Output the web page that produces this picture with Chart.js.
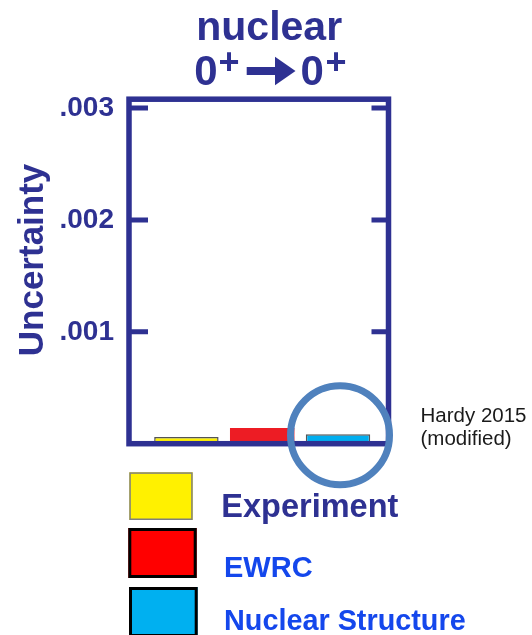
<!DOCTYPE html>
<html>
<head>
<meta charset="utf-8">
<script src="https://cdn.jsdelivr.net/npm/chart.js@4.4.1/dist/chart.umd.min.js"></script>
<style>
html,body{margin:0;padding:0;background:#ffffff;}
#wrap{width:532px;height:635px;position:relative;overflow:hidden;}
canvas{display:block;}
</style>
</head>
<body>
<div id="wrap"><canvas id="c" width="532" height="635"></canvas></div>
<script>
// ---- data ----
const categories = ["Experiment", "EWRC", "Nuclear Structure"];
const uncertainty = [0.00006, 0.00014, 0.000085];
const yTickValues = [0.001, 0.002, 0.003];
const yTickLabels = [".001", ".002", ".003"];
const yAxisTitle = "Uncertainty";
const titleLine = "nuclear";
const transitionLeft = ["0", "+"];
const transitionRight = ["0", "+"];
const noteLines = ["Hardy 2015", "(modified)"];

// ---- styles ----
const NAVY = "#2E3192";
const barColors = ["#FFF200", "#ED1C24", "#00AEEF"];
const barBorderWidths = [1.5, 0, 1.5];
const legendColors = ["#FFF100", "#FF0000", "#00B0F0"];
const legendTextColors = [NAVY, "#1447EC", "#1447EC"];

const decorPlugin = {
  id: "decor",
  afterDraw(chart) {
    const ctx = chart.ctx;
    const ca = chart.chartArea;
    const ys = chart.scales.y;
    const xs = chart.scales.x;
    ctx.save();

    // frame
    ctx.strokeStyle = NAVY;
    ctx.lineWidth = 5.5;
    ctx.strokeRect(ca.left, ca.top, ca.right - ca.left, ca.bottom - ca.top);
    // inward ticks
    ctx.lineWidth = 5;
    yTickValues.forEach(v => {
      const py = ys.getPixelForValue(v);
      ctx.beginPath();
      ctx.moveTo(ca.left, py); ctx.lineTo(ca.left + 19, py);
      ctx.moveTo(ca.right - 17, py); ctx.lineTo(ca.right, py);
      ctx.stroke();
    });

    // y axis title (rotated)
    ctx.save();
    ctx.fillStyle = NAVY;
    ctx.font = "bold 35px 'Liberation Sans', Arial, sans-serif";
    ctx.translate(43, (ca.top + ca.bottom) / 2 - 11.5);
    ctx.rotate(-Math.PI / 2);
    ctx.textAlign = "center";
    ctx.textBaseline = "alphabetic";
    ctx.fillText(yAxisTitle, 0, 0);
    ctx.restore();

    // title line 1
    ctx.fillStyle = NAVY;
    ctx.textAlign = "center";
    ctx.textBaseline = "alphabetic";
    ctx.font = "bold 41px 'Liberation Sans', Arial, sans-serif";
    ctx.fillText(titleLine, 269.2, 40);

    // title line 2: 0+ -> 0+
    const drawZeroPlus = (parts, cx0, cxPlus) => {
      ctx.font = "bold 42px 'Liberation Sans', Arial, sans-serif";
      ctx.fillText(parts[0], cx0, 85);
      ctx.font = "bold 36px 'Liberation Sans', Arial, sans-serif";
      const m = ctx.measureText(parts[1]);
      const base = 61 + (m.actualBoundingBoxAscent - m.actualBoundingBoxDescent) / 2;
      ctx.fillText(parts[1], cxPlus, base);
    };
    drawZeroPlus(transitionLeft, 206, 229);
    drawZeroPlus(transitionRight, 312.3, 336);
    // arrow
    ctx.fillRect(246.7, 67, 29.3, 8);
    ctx.beginPath();
    ctx.moveTo(275, 56.7); ctx.lineTo(295.5, 71); ctx.lineTo(275, 85.3); ctx.closePath();
    ctx.fill();

    // highlight circle around nuclear-structure bar
    ctx.strokeStyle = "#4F81BD";
    ctx.lineWidth = 7;
    ctx.beginPath();
    ctx.arc(xs.getPixelForValue(2) + 2, ys.getPixelForValue(0) - 8.5, 49.5, 0, Math.PI * 2);
    ctx.stroke();

    // note
    ctx.fillStyle = "#1a1a1a";
    ctx.textAlign = "left";
    ctx.font = "20.5px 'Liberation Sans', Arial, sans-serif";
    ctx.fillText(noteLines[0], 420.5, 422);
    ctx.fillText(noteLines[1], 420.5, 444.5);

    // legend
    const boxes = [
      {x: 129.3, y: 472.3, w: 63.4, h: 47.7, bw: 1.5, bc: "#7f7f7f"},
      {x: 128.3, y: 528, w: 68.4, h: 50, bw: 3, bc: "#000000"},
      {x: 129, y: 587, w: 68.7, h: 50, bw: 3, bc: "#000000"}
    ];
    const texts = [
      {left: 223.3, base: 517, size: 32.5},
      {left: 225, base: 577, size: 29},
      {left: 225, base: 630, size: 28.8}
    ];
    categories.forEach((cat, i) => {
      const b = boxes[i];
      ctx.fillStyle = legendColors[i];
      ctx.fillRect(b.x, b.y, b.w, b.h);
      ctx.strokeStyle = b.bc;
      ctx.lineWidth = b.bw;
      ctx.strokeRect(b.x + b.bw / 2, b.y + b.bw / 2, b.w - b.bw, b.h - b.bw);
      const t = texts[i];
      ctx.font = "bold " + t.size + "px 'Liberation Sans', Arial, sans-serif";
      ctx.fillStyle = legendTextColors[i];
      const m = ctx.measureText(cat);
      ctx.fillText(cat, t.left + m.actualBoundingBoxLeft, t.base);
    });

    ctx.restore();
  }
};

new Chart(document.getElementById("c"), {
  type: "bar",
  data: {
    labels: categories,
    datasets: [{
      label: "Uncertainty",
      data: uncertainty.map((v, i) => ({x: i, y: v})),
      backgroundColor: barColors,
      borderColor: "#555555",
      borderWidth: barBorderWidths,
      borderSkipped: "start",
      barPercentage: 0.85,
      categoryPercentage: 1
    }]
  },
  options: {
    responsive: false,
    animation: false,
    devicePixelRatio: 1,
    layout: {padding: {left: 0, top: 99.2, right: 143.5, bottom: 191.3}},
    plugins: {legend: {display: false}, title: {display: false}, tooltip: {enabled: false}},
    scales: {
      x: {
        type: "linear",
        min: -0.757,
        max: 2.666,
        offset: false,
        display: false
      },
      y: {
        min: 0,
        max: 0.003079,
        afterBuildTicks: s => { s.ticks = yTickValues.map(v => ({value: v})); },
        afterFit: s => { s.width = 129; },
        grid: {display: false, drawTicks: false},
        border: {display: false},
        ticks: {
          callback: (value, index) => yTickLabels[index],
          font: {family: "'Liberation Sans', Arial, sans-serif", weight: "bold", size: 28},
          color: NAVY,
          padding: 15
        },
        title: {display: false}
      }
    }
  },
  plugins: [decorPlugin]
});
</script>
</body>
</html>
